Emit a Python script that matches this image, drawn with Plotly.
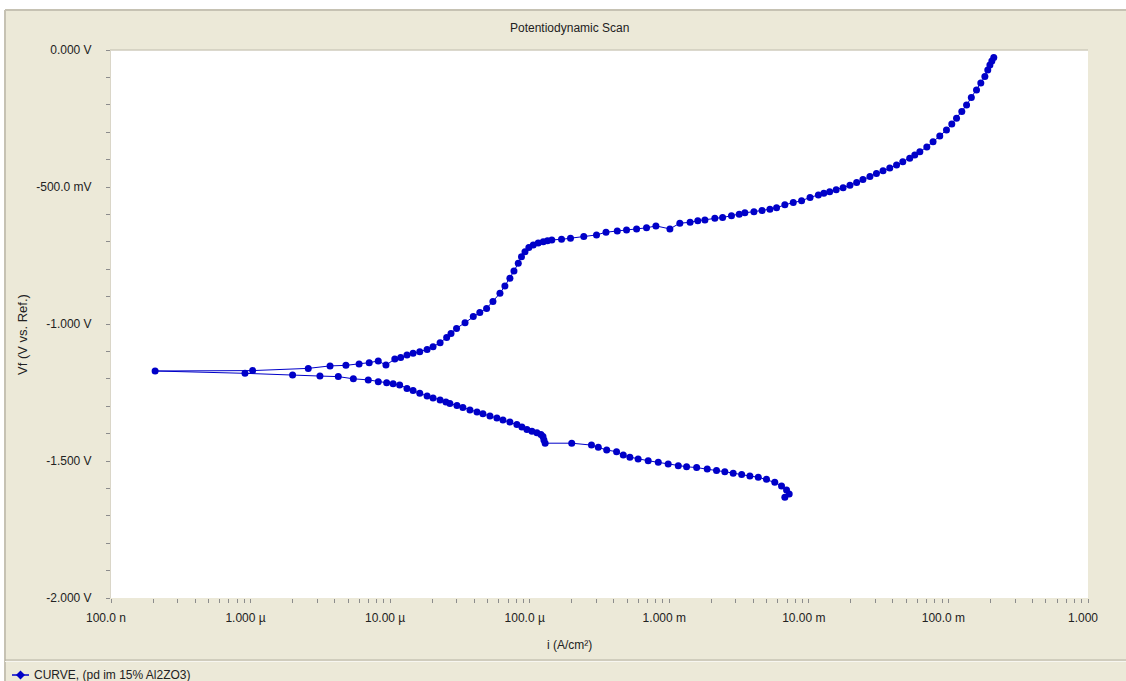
import plotly.graph_objects as go

# ---- data: potentiodynamic scan (current density A/cm², potential V vs. Ref.) ----
# cathodic branch, in scan order from the starting potential up to Ecorr
cathodic_i = [6.73e-3, 7.23e-3, 6.92e-3, 6.37e-3, 5.70e-3, 4.97e-3, 4.34e-3, 3.78e-3,
              3.30e-3, 2.87e-3, 2.50e-3, 2.18e-3, 1.87e-3, 1.57e-3, 1.33e-3, 1.16e-3,
              9.82e-4, 8.34e-4, 7.06e-4, 5.98e-4, 5.22e-4, 4.68e-4, 4.19e-4, 3.56e-4,
              3.10e-4, 2.77e-4, 2.00e-4, 1.29e-4, 1.264e-4, 1.244e-4, 1.203e-4, 1.126e-4,
              1.037e-4, 9.55e-5, 8.79e-5, 8.09e-5, 7.21e-5, 6.43e-5, 5.82e-5, 5.19e-5,
              4.62e-5, 4.19e-5, 3.73e-5, 3.32e-5, 3.01e-5, 2.68e-5, 2.51e-5, 2.28e-5,
              2.03e-5, 1.84e-5, 1.63e-5, 1.46e-5, 1.32e-5, 1.17e-5, 1.05e-5, 9.44e-6,
              8.22e-6, 6.97e-6, 5.45e-6, 4.25e-6, 3.14e-6, 2.00e-6, 9.12e-7, 2.07e-7]
cathodic_v = [-1.632, -1.620, -1.606, -1.591, -1.578, -1.567, -1.559, -1.555,
              -1.549, -1.545, -1.539, -1.535, -1.529, -1.524, -1.521, -1.517,
              -1.511, -1.505, -1.499, -1.493, -1.486, -1.478, -1.466, -1.460,
              -1.450, -1.442, -1.435, -1.435, -1.423, -1.411, -1.403, -1.397,
              -1.391, -1.385, -1.376, -1.367, -1.358, -1.350, -1.343, -1.336,
              -1.328, -1.321, -1.314, -1.305, -1.297, -1.290, -1.285, -1.277,
              -1.270, -1.263, -1.253, -1.243, -1.235, -1.223, -1.218, -1.214,
              -1.211, -1.204, -1.200, -1.192, -1.190, -1.186, -1.180, -1.1715]

# anodic branch, from Ecorr up to the final potential
anodic_i = [1.035e-6, 2.59e-6, 3.71e-6, 4.82e-6, 5.99e-6, 7.08e-6, 8.22e-6, 9.33e-6, 1.08e-5,
            1.19e-5, 1.32e-5, 1.46e-5, 1.63e-5, 1.84e-5, 2.03e-5, 2.28e-5, 2.54e-5, 2.73e-5, 2.99e-5,
            3.44e-5, 3.94e-5, 4.39e-5, 4.91e-5, 5.45e-5, 6.12e-5, 6.64e-5, 7.21e-5, 7.71e-5, 8.28e-5,
            8.73e-5, 9.25e-5, 9.86e-5, 1.06e-4, 1.15e-4, 1.25e-4, 1.34e-4, 1.44e-4, 1.69e-4, 1.96e-4,
            2.44e-4, 3.01e-4, 3.52e-4, 4.24e-4, 4.94e-4, 5.83e-4, 6.87e-4, 8.02e-4, 1.01e-3, 1.19e-3,
            1.41e-3, 1.60e-3, 1.80e-3, 2.12e-3, 2.41e-3, 2.79e-3, 3.17e-3, 3.48e-3, 4.04e-3, 4.62e-3,
            5.26e-3, 5.87e-3, 6.73e-3, 7.73e-3, 8.87e-3, 1.02e-2, 1.17e-2, 1.28e-2, 1.41e-2, 1.57e-2,
            1.76e-2, 1.97e-2, 2.20e-2, 2.44e-2, 2.74e-2, 3.05e-2, 3.40e-2, 3.80e-2, 4.25e-2, 4.71e-2,
            5.28e-2, 5.74e-2, 6.24e-2, 7.00e-2, 7.76e-2, 8.67e-2, 9.68e-2, 0.1057, 0.1143, 0.1247,
            0.1349, 0.1459, 0.1589, 0.1706, 0.1824, 0.1914, 0.1982, 0.2047, 0.2113]
anodic_v = [-1.170, -1.162, -1.153, -1.151, -1.146, -1.141, -1.135, -1.150, -1.128,
            -1.122, -1.113, -1.107, -1.101, -1.093, -1.083, -1.068, -1.049, -1.035, -1.016,
            -0.995, -0.973, -0.958, -0.943, -0.918, -0.888, -0.861, -0.833, -0.807, -0.778,
            -0.755, -0.736, -0.721, -0.712, -0.704, -0.700, -0.696, -0.693, -0.691, -0.687,
            -0.681, -0.675, -0.665, -0.661, -0.657, -0.653, -0.649, -0.642, -0.653, -0.632,
            -0.629, -0.623, -0.620, -0.614, -0.611, -0.605, -0.599, -0.594, -0.590, -0.586,
            -0.581, -0.576, -0.565, -0.557, -0.550, -0.538, -0.529, -0.523, -0.517, -0.510,
            -0.503, -0.494, -0.484, -0.473, -0.462, -0.451, -0.441, -0.431, -0.420, -0.408,
            -0.395, -0.383, -0.371, -0.354, -0.335, -0.314, -0.292, -0.270, -0.249, -0.224,
            -0.201, -0.173, -0.146, -0.120, -0.097, -0.073, -0.055, -0.040, -0.027]

curve_name = "CURVE, (pd im 15% Al2ZO3)"

# axis ticks
x_decades = [1e-7, 1e-6, 1e-5, 1e-4, 1e-3, 1e-2, 1e-1, 1.0]
x_labels = ["100.0 n", "1.000 \u00b5", "10.00 \u00b5", "100.0 \u00b5",
            "1.000 m", "10.00 m", "100.0 m", "1.000"]
y_ticks = [0.0, -0.5, -1.0, -1.5, -2.0]
y_labels = ["0.000 V", "-500.0 mV", "-1.000 V", "-1.500 V", "-2.000 V"]

# ---- page geometry (pixels) ----
W, H = 1126, 681
PL, PR, PT, PB = 111, 1088, 50, 598
BEIGE = "#ECE9D8"
EDGE = "#C6C2B3"
TXT = "#222222"
TICK = "#8C8C8C"
BLUE = "#0000C8"
FONT = "Liberation Sans, Arial, sans-serif"
FS = 12


def fx(p):
    return (p - PL) / (PR - PL)


def fy(p):
    return (PB - p) / (PB - PT)


# log-axis tick positions: every digit inside each decade, labels on decades only
x_tickvals, x_ticktext = [], []
for d, lab in zip(x_decades[:-1], x_labels[:-1]):
    for k in range(1, 10):
        x_tickvals.append(k * d)
        x_ticktext.append(lab if k == 1 else "")
x_tickvals.append(x_decades[-1])
x_ticktext.append(x_labels[-1])

fig = go.Figure()
fig.add_trace(go.Scatter(
    x=cathodic_i + anodic_i,
    y=cathodic_v + anodic_v,
    mode="lines+markers",
    name=curve_name,
    line=dict(color=BLUE, width=1),
    marker=dict(symbol="circle", size=7, color=BLUE),
    showlegend=False,
    hoverinfo="x+y",
))

shapes = [
    # white strips outside the panel frame
    dict(type="rect", xref="paper", yref="paper", x0=fx(-20), x1=fx(W + 20),
         y0=fy(10), y1=fy(-20), fillcolor="white", line=dict(width=0), layer="below"),
    dict(type="rect", xref="paper", yref="paper", x0=fx(-20), x1=fx(5),
         y0=fy(H + 20), y1=fy(10), fillcolor="white", line=dict(width=0), layer="below"),
    # panel frame
    dict(type="line", xref="paper", yref="paper", x0=fx(5), x1=fx(W + 5),
         y0=fy(10), y1=fy(10), line=dict(color=EDGE, width=2), layer="below"),
    dict(type="line", xref="paper", yref="paper", x0=fx(5), x1=fx(5),
         y0=fy(10), y1=fy(H + 5), line=dict(color=EDGE, width=2), layer="below"),
    # plot-area edges
    dict(type="line", xref="paper", yref="paper", x0=fx(PL - 1), x1=fx(PR),
         y0=fy(PT), y1=fy(PT), line=dict(color="#CFCBBD", width=1.5)),
    dict(type="line", xref="paper", yref="paper", x0=fx(PL - 0.5), x1=fx(PL - 0.5),
         y0=fy(PT), y1=fy(PB), line=dict(color="#DAD6C8", width=1)),
    # legend separator
    dict(type="line", xref="paper", yref="paper", x0=fx(5), x1=fx(W + 5),
         y0=fy(660), y1=fy(660), line=dict(color="#B4B0A2", width=1)),
    dict(type="line", xref="paper", yref="paper", x0=fx(5), x1=fx(W + 5),
         y0=fy(661.5), y1=fy(661.5), line=dict(color="#F7F6F0", width=1)),
    # legend key: line + diamond
    dict(type="line", xref="paper", yref="paper", x0=fx(12), x1=fx(29),
         y0=fy(675), y1=fy(675), line=dict(color=BLUE, width=1.5)),
    dict(type="path", xref="paper", yref="paper",
         path=(f"M {fx(20.5)},{fy(670.5)} L {fx(25)},{fy(675)} "
               f"L {fx(20.5)},{fy(679.5)} L {fx(16)},{fy(675)} Z"),
         fillcolor=BLUE, line=dict(color=BLUE, width=0)),
]

annotations = [
    dict(text="Potentiodynamic Scan", xref="paper", yref="paper",
         x=fx(569), y=fy(28), showarrow=False, xanchor="center", yanchor="middle",
         font=dict(family=FONT, size=FS, color=TXT)),
    dict(text="i (A/cm\u00b2)", xref="paper", yref="paper",
         x=fx(569), y=fy(645), showarrow=False, xanchor="center", yanchor="middle",
         font=dict(family=FONT, size=FS, color=TXT)),
    dict(text="Vf (V vs. Ref.)", xref="paper", yref="paper",
         x=fx(22), y=fy(335), showarrow=False, textangle=-90,
         xanchor="center", yanchor="middle",
         font=dict(family=FONT, size=FS + 1, color=TXT)),
    dict(text=curve_name, xref="paper", yref="paper",
         x=fx(32), y=fy(675), showarrow=False, xanchor="left", yanchor="middle",
         font=dict(family=FONT, size=FS, color=TXT)),
]

fig.update_layout(
    width=W, height=H,
    margin=dict(l=PL, r=W - PR, t=PT, b=H - PB, pad=0),
    paper_bgcolor=BEIGE,
    plot_bgcolor="white",
    font=dict(family=FONT, size=FS, color=TXT),
    shapes=shapes,
    annotations=annotations,
    showlegend=False,
)

fig.update_xaxes(
    type="log", range=[-7, 0],
    tickmode="array", tickvals=x_tickvals, ticktext=x_ticktext,
    ticks="outside", ticklen=4, tickwidth=1, tickcolor=TICK,
    ticklabelstandoff=5, ticklabelshift=-5,
    showgrid=False, zeroline=False, showline=False,
    tickfont=dict(family=FONT, size=FS, color=TXT),
)
fig.update_yaxes(
    range=[-2, 0],
    tickmode="array", tickvals=y_ticks, ticktext=y_labels,
    ticks="outside", ticklen=4, tickwidth=1, tickcolor=TICK,
    ticklabelstandoff=12,
    minor=dict(tickmode="linear", tick0=0, dtick=0.1, ticks="outside",
               ticklen=4, tickcolor=TICK, showgrid=False),
    showgrid=False, zeroline=False, showline=False,
    tickfont=dict(family=FONT, size=FS, color=TXT),
)

fig.write_html("out.html")
